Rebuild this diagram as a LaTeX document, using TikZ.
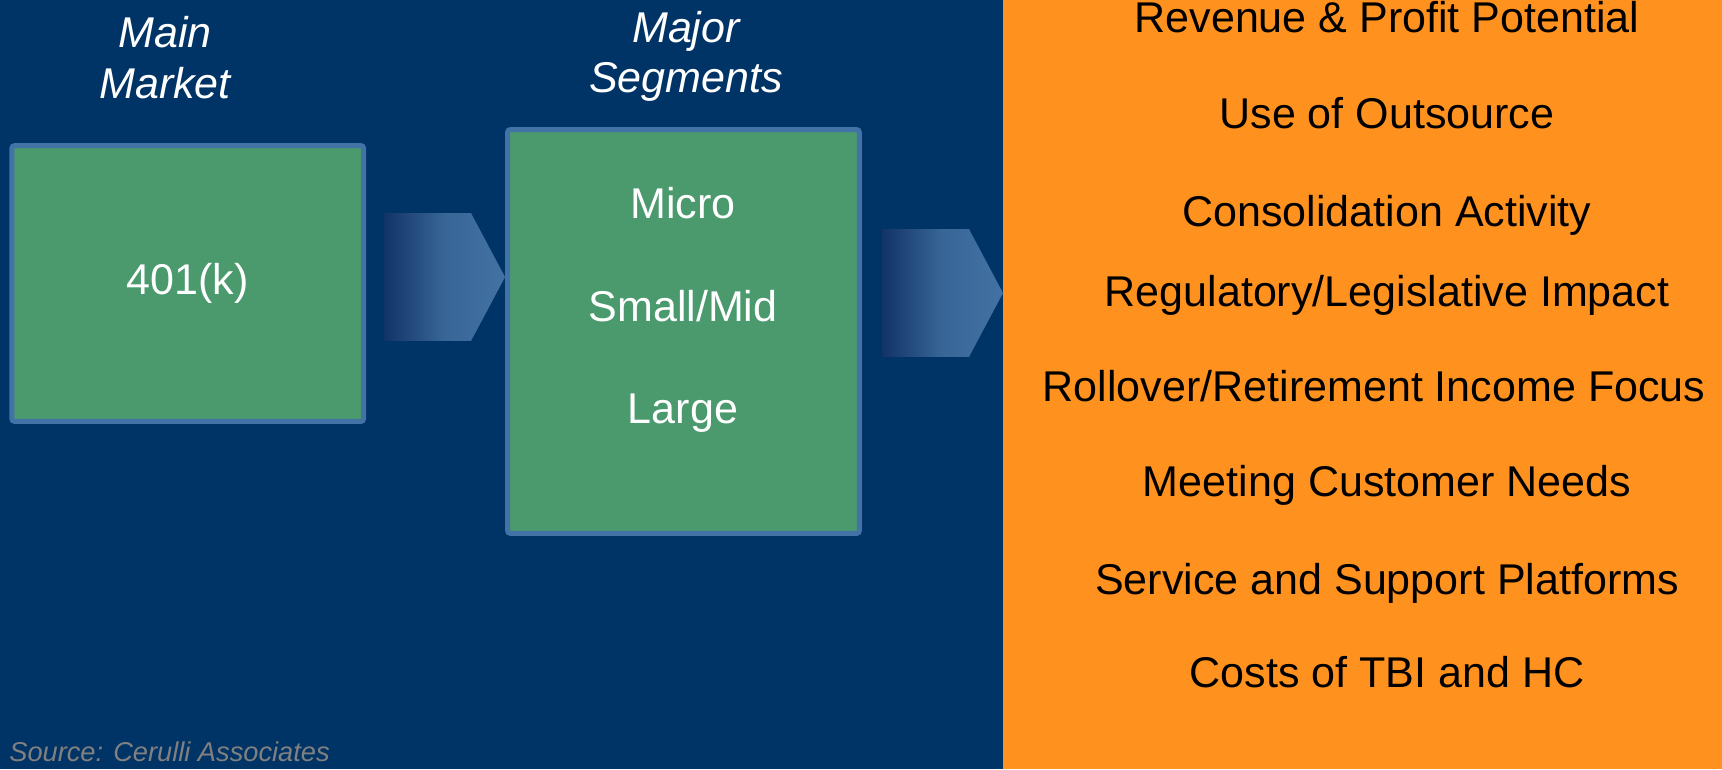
\documentclass[tikz,border=0pt]{standalone}
\usepackage{fontspec}
\setmainfont{Liberation Sans}
\usepackage{xcolor}
\usetikzlibrary{shapes.symbols}

\definecolor{navybg}{RGB}{0,51,102}
\definecolor{boxgreen}{RGB}{74,154,110}
\definecolor{boxedge}{RGB}{67,114,166}
\definecolor{panelorange}{RGB}{255,146,30}
\definecolor{flowdark}{RGB}{18,51,104}
\definecolor{flowlight}{RGB}{66,114,163}
\definecolor{srcgray}{RGB}{128,128,128}

\tikzset{
    bigtext/.style={font=\fontsize{24.5}{29}\selectfont, anchor=base, inner sep=0pt},
    heading/.style={bigtext, text=white, font=\fontsize{24.5}{29}\selectfont\itshape},
    boxtext/.style={bigtext, text=white},
    factor/.style={bigtext, text=black},
    box/.style={draw=boxedge, fill=boxgreen, line width=0.1cm, rounded corners=0.06cm,
        minimum width=7.04cm, inner sep=0pt, text=white, font=\fontsize{24.5}{29}\selectfont},
    flow/.style={signal, signal to=east, signal pointer angle=124,
        minimum width=2.42cm, minimum height=2.56cm, inner sep=0pt, outer sep=0pt,
        left color=flowdark, right color=flowlight, middle color=flowlight!80!flowdark},
    source/.style={font=\fontsize{15.5}{18}\selectfont\itshape, text=srcgray, anchor=base west, inner sep=0pt}
}

\begin{document}
\begin{tikzpicture}[x=0.02cm, y=-0.02cm]
    % navy field and orange panel
    \fill[navybg] (0,0) rectangle (1003,769);
    \fill[panelorange] (1003,0) rectangle (1722,769);

    % column headings
    \node[heading] (mainA) at (165,47) {Main};
    \node[heading] (mainB) at (165,98) {Market};
    \node[heading] (majorA) at (686,42) {Major};
    \node[heading] (majorB) at (686,92) {Segments};

    % market and segment boxes
    \node[box, minimum height=5.52cm] (market) at (187.75,283.5) {401(k)};
    \node[box, minimum height=8.08cm] (segments) at (683.5,331.5) {};
    \node[boxtext] (micro) at (683,218) {Micro};
    \node[boxtext] (smallmid) at (683,321) {Small/Mid};
    \node[boxtext] (large) at (683,423) {Large};

    % block arrows
    \node[flow, anchor=east] (toseg) at (segments.west |- 0,277) {};
    \node[flow, anchor=east] (tofactors) at (1003,293) {};

    % factors on the orange panel
    \node[factor] (revenue) at (1387,32) {Revenue \& Profit Potential};
    \node[factor] (outsource) at (1387,128) {Use of Outsource};
    \node[factor] (consol) at (1387,226) {Consolidation Activity};
    \node[factor] (regul) at (1387,306) {Regulatory/Legislative Impact};
    \node[factor] (rollover) at (1374,401) {Rollover/Retirement Income Focus};
    \node[factor] (needs) at (1387,496) {Meeting Customer Needs};
    \node[factor] (service) at (1387,594) {Service and Support Platforms};
    \node[factor] (costs) at (1387,687) {Costs of TBI and HC};

    \node[source] (src) at (9,761) {Source: Cerulli Associates};
\end{tikzpicture}
\end{document}
